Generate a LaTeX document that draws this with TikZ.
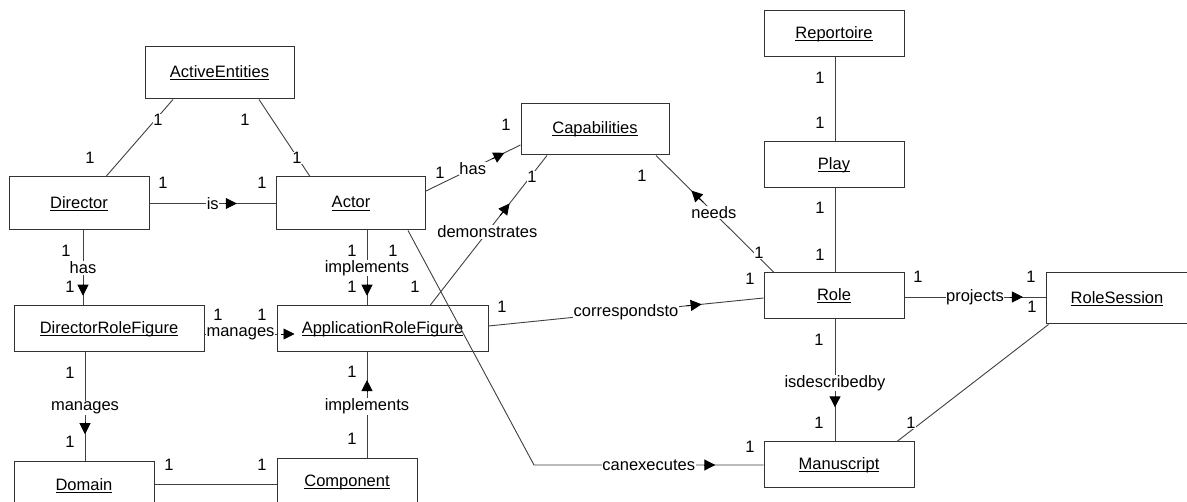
\documentclass[tikz,border=0pt]{standalone}
\usepackage{fontspec}
\setmainfont{Liberation Sans}
\usetikzlibrary{arrows.meta,calc}
% class name with a fixed-depth underline
\newcommand\clsname[1]{\setbox0=\hbox{#1}\rlap{\rule[-2.6pt]{\wd0}{0.9pt}}\box0}
\begin{document}
\begin{tikzpicture}[x=1pt,y=-1pt,
  cls/.style={draw=black!80,line width=1pt,fill=white,inner sep=0pt,
    font=\fontsize{16.5}{18}\selectfont},
  lbl/.style={fill=white,inner sep=0.6pt,font=\fontsize{16.5}{18}\selectfont},
  assoc/.style={draw=black!75,line width=0.9pt},
  dirtip/.style={-{Triangle[length=11pt,width=11pt]},draw=black,line width=0.9pt}]
\useasboundingbox (0,0) rectangle (1187,502);
\fill[white] (0,0) rectangle (1187,502);

% classes
\node[cls,minimum width=149pt,minimum height=52pt] (ae)   at (219.5,73)  {\clsname{ActiveEntities}};
\node[cls,minimum width=140pt,minimum height=53pt] (dir)  at (79,203.5)  {\clsname{Director}};
\node[cls,minimum width=149pt,minimum height=53pt] (act)  at (351,203.5) {\clsname{Actor}};
\node[cls,minimum width=148pt,minimum height=51pt] (cap)  at (595,129.5) {\clsname{Capabilities}};
\node[cls,minimum width=140pt,minimum height=46pt] (rep)  at (834,34)    {\clsname{Reportoire}};
\node[cls,minimum width=140pt,minimum height=46pt] (play) at (834,165)   {\clsname{Play}};
\node[cls,minimum width=140pt,minimum height=46pt] (role) at (834,296)   {\clsname{Role}};
\node[cls,minimum width=142pt,minimum height=51pt] (rs)   at (1117,298.5){\clsname{RoleSession}};
\node[cls,minimum width=190pt,minimum height=46pt] (drf)  at (109,329)   {\clsname{DirectorRoleFigure}};
\node[cls,minimum width=211pt,minimum height=46pt] (arf)  at (382.5,329) {\clsname{ApplicationRoleFigure}};
\node[cls,minimum width=150pt,minimum height=46pt] (man)  at (839,465)   {\clsname{Manuscript}};
\node[cls,minimum width=140pt,minimum height=48pt] (dom)  at (84,486)    {\clsname{Domain}};
\node[cls,minimum width=140pt,minimum height=46pt] (comp) at (347,482)   {\clsname{Component}};

% connector end points on the class borders
\coordinate (aeD)   at ([xshift=-46.5pt]ae.south);
\coordinate (dirA)  at ([xshift=27pt]dir.north);
\coordinate (aeA)   at ([xshift=39.5pt]ae.south);
\coordinate (actA)  at ([xshift=-41pt]act.north);
\coordinate (actC)  at ([yshift=12.5pt]act.east);
\coordinate (capA)  at ([yshift=-15.5pt]cap.west);
\coordinate (capD)  at ([xshift=-48pt]cap.south);
\coordinate (arfD)  at ([xshift=47.5pt]arf.north);
\coordinate (capR)  at ([xshift=61pt]cap.south);
\coordinate (roleC) at ([xshift=-60pt]role.north);
\coordinate (arfR)  at ([yshift=3pt]arf.east);
\coordinate (roleA) at ([yshift=-2pt]role.west);
\coordinate (roleS) at ([yshift=-1pt]role.east);
\coordinate (rsR)   at ([yshift=1.5pt]rs.west);
\coordinate (repP)  at ([xshift=1pt]rep.south);
\coordinate (playR) at ([xshift=1pt]play.north);
\coordinate (playS) at ([xshift=1pt]play.south);
\coordinate (roleP) at ([xshift=1pt]role.north);
\coordinate (roleM) at ([xshift=1pt]role.south);
\coordinate (manR)  at ([xshift=-4pt]man.north);
\coordinate (rsM)   at ([xshift=3pt]rs.south west);
\coordinate (manS)  at ([xshift=58pt]man.north);
\coordinate (actM)  at ([xshift=57pt]act.south);
\coordinate (bend)  at (534,465);
\coordinate (actI)  at ([xshift=16pt]act.south);
\coordinate (arfI)  at ([xshift=-15.5pt]arf.north);
\coordinate (arfC)  at ([xshift=-15.5pt]arf.south);
\coordinate (compI) at ([xshift=20pt]comp.north);
\coordinate (dirH)  at ([xshift=4pt]dir.south);
\coordinate (drfH)  at ([xshift=-26pt]drf.north);
\coordinate (drfM)  at ([yshift=-5pt]drf.east);
\coordinate (arfM)  at ([yshift=-5pt]arf.west);
\coordinate (drfD)  at ([xshift=-24pt]drf.south);
\coordinate (domM)  at ([xshift=1pt]dom.north);
\coordinate (domC)  at ([yshift=2pt]dom.east);
\coordinate (compD) at ([yshift=-2pt]comp.west);

% associations
\draw[assoc] (aeD) -- (dirA);
\draw[assoc] (aeA) -- (actA);
\draw[assoc] (dir.east) -- (act.west);
\draw[assoc] (actC) -- (capA);
\draw[assoc] (capD) -- (arfD);
\draw[assoc] (capR) -- (roleC);
\draw[assoc] (repP) -- (playR);
\draw[assoc] (playS) -- (roleP);
\draw[assoc] (roleS) -- (rsR);
\draw[assoc] (roleM) -- (manR);
\draw[assoc] (rsM) -- (manS);
\draw[assoc] (arfR) -- (roleA);
\draw[assoc] (actM) -- (bend) -- (man.west);
\draw[assoc] (actI) -- (arfI);
\draw[assoc] (dirH) -- (drfH);
\draw[assoc] (drfM) -- (arfM);
\draw[assoc] (drfD) -- (domM);
\draw[assoc] (arfC) -- (compI);
\draw[assoc] (domC) -- (compD);

% reading-direction triangles
\draw[dirtip] ($(dir.east)!0.60!(act.west)$) -- ($(dir.east)!0.69!(act.west)$);
\draw[dirtip] ($(actC)!0.70!(capA)$) -- ($(actC)!0.83!(capA)$);
\draw[dirtip] ($(capD)!0.40!(arfD)$) -- ($(capD)!0.32!(arfD)$);
\draw[dirtip] ($(capR)!0.40!(roleC)$) -- ($(capR)!0.30!(roleC)$);
\draw[dirtip] ($(arfR)!0.72!(roleA)$) -- ($(arfR)!0.775!(roleA)$);
\draw[dirtip] ($(roleS)!0.75!(rsR)$) -- ($(roleS)!0.84!(rsR)$);
\draw[dirtip] ($(roleM)!0.63!(manR)$) -- ($(roleM)!0.72!(manR)$);
\draw[dirtip] ($(bend)!0.74!(man.west)$) -- ($(bend)!0.79!(man.west)$);
\draw[dirtip] ($(actI)!0.72!(arfI)$) -- ($(actI)!0.87!(arfI)$);
\draw[dirtip] ($(dirH)!0.72!(drfH)$) -- ($(dirH)!0.87!(drfH)$);
\draw[dirtip] ($(arfM)+(4,0)$) -- ($(arfM)+(18,0)$);
\draw[dirtip] ($(drfD)!0.64!(domM)$) -- ($(drfD)!0.75!(domM)$);
\draw[dirtip] ($(arfC)!0.37!(compI)$) -- ($(arfC)!0.26!(compI)$);

% association names
\node[lbl] (nIs)   at ($(dir.east)!0.5!(act.west)$) {is};
\node[lbl] (nHas)  at ($(actC)!0.495!(capA)$) {has};
\node[lbl] (nDem)  at ($(capD)!0.51!(arfD)$) {demonstrates};
\node[lbl] (nNeed) at ($(capR)!0.49!(roleC)$) {needs};
\node[lbl] (nCor)  at ($(arfR)!0.50!(roleA)$) {correspondsto};
\node[lbl] (nProj) at ($(roleS)!0.50!(rsR)$) {projects};
\node[lbl] (nDesc) at ($(roleM)!0.52!(manR)$) {isdescribedby};
\node[lbl] (nExec) at ($(bend)!0.50!(man.west)$) {canexecutes};
\node[lbl] (nImp1) at ($(actI)!0.5!(arfI)$) {implements};
\node[lbl] (nHas2) at ($(dirH)!0.5!(drfH)$) {has};
\node[lbl] (nMan1) at ($(drfM)!0.5!(arfM)$) {manages};
\node[lbl] (nMan2) at ($(drfD)!0.51!(domM)$) {manages};
\node[lbl] (nImp2) at ($(arfC)!0.51!(compI)$) {implements};

% multiplicities
\foreach \px/\py [count=\k] in {158/120, 90/158, 245/120, 297/158, 163/183, 262/183,
    440/173, 506/125, 532/177, 415/287, 642/176, 759/253, 820/78, 820/123,
    820/208, 820/255, 918/277, 1031/277, 1032/307, 819/340, 819/423, 911/423,
    502/307, 750/279, 393/251, 750/447, 352/251, 352/287, 66/251, 70/287,
    218/315, 262/315, 70/373, 70/442, 352/372, 352/439, 169/465, 262/465}
  \node[lbl] (m\k) at (\px,\py) {1};
\end{tikzpicture}
\end{document}
